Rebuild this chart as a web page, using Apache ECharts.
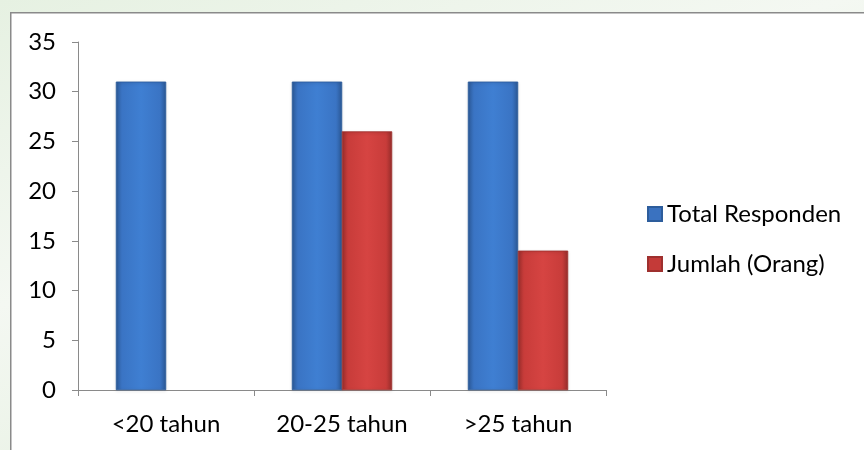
<!DOCTYPE html>
<html>
<head>
<meta charset="utf-8">
<script src="https://cdn.jsdelivr.net/npm/echarts@6/dist/echarts.min.js"></script>
<style>
  html, body { margin: 0; padding: 0; }
  body { background: linear-gradient(160deg, #e6f1e2 0%, #f4f8f2 40%, #dcebd6 100%); }
  #chart { width: 864px; height: 450px; }
</style>
</head>
<body>
<div id="chart"></div>
<script>
var categories = ['<20 tahun', '20-25 tahun', '>25 tahun'];
var totalResponden = [31, 31, 31];
var jumlahOrang = [null, 26, 14];
var seriesNames = ['Total Responden', 'Jumlah (Orang)'];

var myChart = echarts.init(document.getElementById('chart'));

// bevel look: dark edges, lighter middle
function bevel(dark, mid, light) {
    return new echarts.graphic.LinearGradient(0, 0, 1, 0, [
        { offset: 0, color: dark },
        { offset: 0.12, color: mid },
        { offset: 0.5, color: light },
        { offset: 0.88, color: mid },
        { offset: 1, color: dark }
    ]);
}

var blue = bevel('#2c5a98', '#3a74c4', '#3f7fd2');
var red = bevel('#9a2e2c', '#c83c3a', '#d64442');

var option = {
    backgroundColor: 'transparent',
    textStyle: { fontFamily: 'Lato', color: '#000' },
    graphic: [{
        type: 'rect',
        left: 10, top: 12,
        shape: { width: 870, height: 450 },
        style: { fill: '#fff', stroke: '#8a8a8a', lineWidth: 1.5 },
        z: -10
    }],
    grid: { left: 78, right: 258, top: 42, bottom: 60 },
    legend: {
        orient: 'vertical',
        left: 642,
        top: 197,
        itemWidth: 14,
        itemHeight: 14,
        itemGap: 26,
        icon: 'rect',
        textStyle: { fontSize: 24, fontFamily: 'Lato', color: '#000' },
        data: [
            { name: seriesNames[0], itemStyle: { color: '#3a72c0' } },
            { name: seriesNames[1], itemStyle: { color: '#c43a38' } }
        ]
    },
    xAxis: {
        type: 'category',
        data: categories,
        axisLine: { lineStyle: { color: '#8a8a8a', width: 1 } },
        axisTick: { show: true, length: 6, lineStyle: { color: '#8a8a8a' } },
        axisLabel: { fontSize: 24, color: '#000', margin: 22 }
    },
    yAxis: {
        type: 'value',
        min: 0, max: 35, interval: 5,
        axisLine: { show: true, lineStyle: { color: '#8a8a8a', width: 1 } },
        axisTick: { show: true, length: 6, lineStyle: { color: '#8a8a8a' } },
        axisLabel: { fontSize: 24, color: '#000', margin: 22 },
        splitLine: { show: false }
    },
    series: [
        {
            name: seriesNames[0],
            type: 'bar',
            data: totalResponden,
            barWidth: 50,
            barGap: '0%',
            itemStyle: { color: blue, borderColor: '#2d5d9c', borderWidth: 0.5,
                shadowColor: 'rgba(0,0,0,0.25)', shadowBlur: 3, shadowOffsetY: 1 }
        },
        {
            name: seriesNames[1],
            type: 'bar',
            data: jumlahOrang,
            barWidth: 50,
            barGap: '0%',
            itemStyle: { color: red, borderColor: '#9e302e', borderWidth: 0.5,
                shadowColor: 'rgba(0,0,0,0.25)', shadowBlur: 3, shadowOffsetY: 1 }
        }
    ]
};

myChart.setOption(option);
</script>
</body>
</html>
